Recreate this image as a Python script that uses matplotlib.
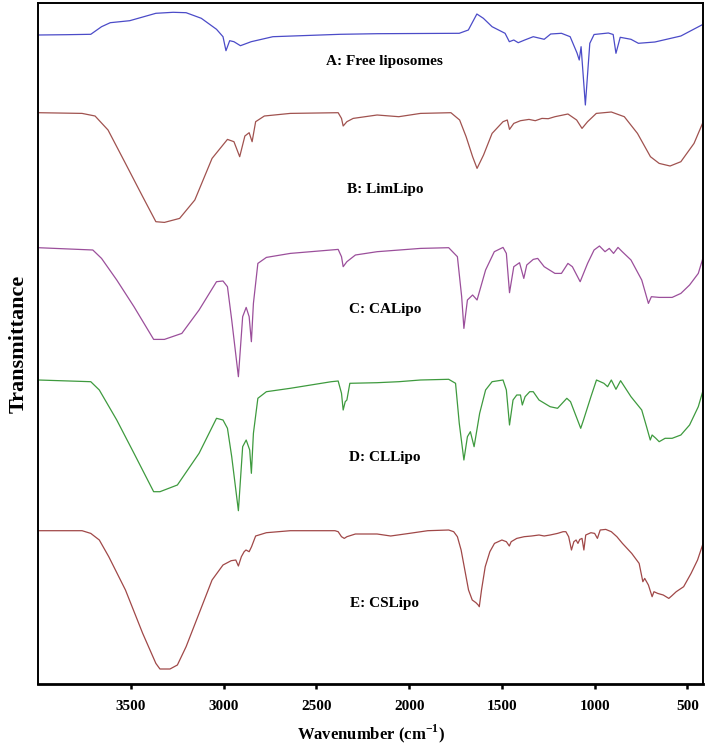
import matplotlib
matplotlib.use("Agg")
import matplotlib.pyplot as plt

# FTIR spectra, relative transmittance (arbitrary units, baseline = 0)
wn_a = [4000, 3850, 3717, 3659, 3612, 3507, 3366, 3273, 3203, 3121, 3039, 3004,
        2988, 2968, 2945, 2910, 2852, 2735, 2372, 2172, 1730, 1681, 1635, 1600,
        1553, 1483, 1460, 1436, 1412, 1377, 1331, 1272, 1237, 1179, 1132, 1095,
        1083, 1073, 1050, 1026, 1003, 926, 900, 885, 862, 804, 764, 675, 535, 412]
t_a = [0, 0.3, 0.7, 8.3, 12.3, 14.3, 21.7, 22.7, 22.3, 16.7, 5.7, -1.7,
       -15.7, -5.7, -6.7, -10.7, -6.7, -1.7, 0.7, 1.3, 1.7, 5, 21, 16.7,
       8.3, 1.7, -6.7, -5, -7.7, -5, -1.7, -4.3, 1, 1.7, -1.7, -18,
       -25, -11.7, -70, -8.3, 0.5, 2.0, 0.5, -18.3, -2.3, -4.3, -8.3, -7, -1, 11]

wn_b = [4000, 3764, 3694, 3624, 3530, 3437, 3366, 3320, 3238, 3156, 3063, 2980,
        2945, 2914, 2886, 2863, 2847, 2828, 2781, 2641, 2383, 2365, 2356, 2336,
        2302, 2173, 2056, 1939, 1775, 1728, 1693, 1658, 1634, 1599, 1553, 1494,
        1471, 1459, 1436, 1400, 1354, 1320, 1284, 1250, 1214, 1144, 1097, 1068,
        1038, 991, 910, 840, 769, 699, 652, 593, 535, 464, 412]
t_b = [0, -0.7, -3.3, -17.3, -50.7, -84, -109, -109.7, -105.7, -87.3, -45.7, -26.7,
       -29, -44, -23.3, -20, -29, -9, -3.3, -0.7, 0, -5.7, -13.3, -9,
       -5.7, -2.3, -4, -0.7, 0, -7.3, -24, -44, -55.7, -42.3, -20.7, -9,
       -7.3, -16.7, -10.7, -8, -6.7, -8, -5.7, -6, -4, -1.3, -7.3, -15.7,
       -9, -0.7, 0.7, -4, -20.7, -44, -50.7, -53.3, -49, -30.7, -8]

wn_c = [4000, 3706, 3659, 3577, 3484, 3378, 3320, 3226, 3133, 3039, 3004, 2980,
        2957, 2921, 2898, 2879, 2863, 2851, 2840, 2816, 2770, 2641, 2383, 2365,
        2356, 2336, 2290, 2173, 1939, 1787, 1740, 1717, 1705, 1686, 1658, 1634,
        1588, 1541, 1494, 1476, 1459, 1436, 1405, 1382, 1366, 1331, 1307, 1272,
        1214, 1179, 1144, 1120, 1078, 1038, 1003, 974, 944, 921, 898, 874,
        851, 804, 746, 710, 694, 652, 582, 535, 488, 441, 412]
t_c = [0, -2.3, -10.7, -32.3, -59, -91.7, -91.7, -85.7, -62.3, -34, -33.3, -39,
       -72.3, -129, -69, -59.7, -69, -94, -55.7, -15.7, -9.7, -5.7, -1.7, -9,
       -19, -14, -7.3, -4, -0.7, 0, -9, -49, -80.7, -52.3, -47.3, -52.3,
       -22.3, -4, 0.3, -5.7, -45, -19, -15, -30.7, -17.3, -11.7, -10.7, -19,
       -25.7, -25.7, -15.7, -19, -34, -15.7, -2.3, 1.7, -4, -0.7, -5.7, 0.3,
       -4, -12.3, -32.3, -55.7, -49, -49.7, -49.7, -45.7, -37.3, -25.7, -8]

wn_d = [4000, 3717, 3671, 3577, 3484, 3378, 3344, 3250, 3133, 3039, 3004, 2980,
        2957, 2921, 2898, 2879, 2860, 2851, 2840, 2816, 2770, 2641, 2420, 2383,
        2365, 2356, 2345, 2336, 2320, 2173, 2056, 1939, 1787, 1750, 1730, 1705,
        1686, 1670, 1650, 1620, 1588, 1553, 1494, 1476, 1459, 1440, 1420, 1400,
        1390, 1375, 1350, 1331, 1300, 1240, 1200, 1150, 1130, 1075, 1060, 1020,
        990, 950, 930, 910, 885, 860, 804, 746, 720, 700, 690, 670, 652, 620,
        582, 535, 488, 441, 412]
t_d = [0, -1.7, -10, -40, -73.3, -111.7, -111.7, -105, -73.3, -38.3, -40, -48.3,
       -76.7, -130.7, -66.7, -60, -70, -93.3, -53.3, -18.3, -11.7, -8.3, -1.7, -1,
       -13.3, -30, -21.7, -20, -3.3, -2.7, -1.7, 0, 0.7, -3.3, -43.3, -80,
       -56.7, -51.7, -66.7, -33.3, -10, -1.7, 0, -10, -45, -20, -15, -15,
       -25, -16.7, -11.7, -11.7, -20, -26.7, -28.3, -18.3, -21.7, -48.3, -40, -16.7,
       0, -3.3, -6.7, 0, -9.3, -0.7, -16.7, -30, -46.7, -60, -55, -58.3, -61.7, -58.3,
       -58.3, -55, -45, -26.7, -8.3]

wn_e = [4000, 3764, 3717, 3671, 3620, 3530, 3437, 3366, 3344, 3290, 3250, 3203,
        3133, 3063, 3004, 2960, 2935, 2921, 2905, 2890, 2880, 2863, 2850, 2828,
        2770, 2641, 2400, 2383, 2365, 2350, 2336, 2290, 2173, 2100, 2000, 1900,
        1787, 1760, 1740, 1720, 1700, 1680, 1660, 1640, 1628, 1622, 1610, 1590,
        1565, 1540, 1500, 1476, 1460, 1450, 1420, 1380, 1340, 1300, 1272, 1240,
        1200, 1170, 1155, 1140, 1125, 1112, 1100, 1090, 1080, 1068, 1058, 1048,
        1020, 1000, 985, 970, 940, 910, 880, 850, 800, 760, 740, 730, 710,
        690, 680, 660, 630, 600, 585, 560, 520, 480, 445, 412]
t_e = [0, 0, -2.7, -9.3, -26, -59.3, -102.7, -132.7, -138.3, -138.3, -134.3, -116,
       -82.7, -49.3, -34.3, -30, -29.3, -35.3, -26, -21, -19.3, -21, -16, -5.3,
       -2, 0, 0, -1, -6, -7.7, -6, -3.3, -3.3, -5.3, -2.7, 0,
       0.7, -1, -6, -19.3, -39.3, -59.3, -69.3, -72, -74.3, -76, -59.3, -36,
       -21, -12.7, -9.3, -11, -15.3, -11, -7.7, -6, -5.3, -4.3, -5.3, -4.3,
       -2.7, -1, -1, -6, -19.3, -11, -9.3, -12.7, -8.7, -7.7, -19.3, -4.3,
       -2, -2.7, -7.7, 0.7, 1.3, -1, -6, -12.7, -22.7, -32.7, -51, -47.7, -54.3,
       -66, -61, -62.7, -64.3, -67.7, -65.3, -61, -56, -42.7, -29.3, -11]

names = ["A: Free liposomes", "B: LimLipo", "C: CALipo", "D: CLLipo", "E: CSLipo"]
spectra = [(wn_a, t_a), (wn_b, t_b), (wn_c, t_c), (wn_d, t_d), (wn_e, t_e)]

# layout / style
offsets = [649, 571.3, 436.3, 304, 153.3]
label_y = [622, 495, 375, 227, 81]
colors = ["#4b4bc8", "#a0524f", "#9b4f9b", "#3e9a3e", "#a04848"]

plt.rcParams["font.family"] = ["Liberation Serif", "DejaVu Serif"]
plt.rcParams["font.weight"] = "bold"
plt.rcParams["mathtext.fontset"] = "custom"
plt.rcParams["mathtext.rm"] = "Liberation Serif:bold"
plt.rcParams["mathtext.bf"] = "Liberation Serif:bold"

fig = plt.figure(figsize=(7.08, 7.44), dpi=100)
ax = fig.add_axes([38.3 / 708, 60 / 744, 665 / 708, 681 / 744])

for (wn, t), off, col, name, ly in zip(spectra, offsets, colors, names, label_y):
    ax.plot(wn, [v + off for v in t], color=col, lw=0.9)
    ax.text(2131, ly, name, ha="center", va="center", fontsize=11,
            fontweight="bold")

ax.set_xlim(4000, 414)
ax.set_ylim(0, 681)
ax.set_xticks([3500, 3000, 2500, 2000, 1500, 1000, 500])
ax.set_yticks([])
ax.tick_params(axis="x", direction="out", length=3.6, width=1.8, pad=8,
               labelsize=11)
for lab in ax.get_xticklabels():
    lab.set_fontweight("bold")
for side in ["left", "right", "top"]:
    ax.spines[side].set_linewidth(1.4)
ax.spines["bottom"].set_linewidth(2)

ax.set_xlabel(r"Wavenumber (cm$^{\mathregular{-1}}$)", fontsize=12,
              fontweight="bold", labelpad=7)
ax.set_ylabel("Transmittance", fontsize=16, fontweight="bold", labelpad=7)

fig.savefig("out.png", dpi=100)
